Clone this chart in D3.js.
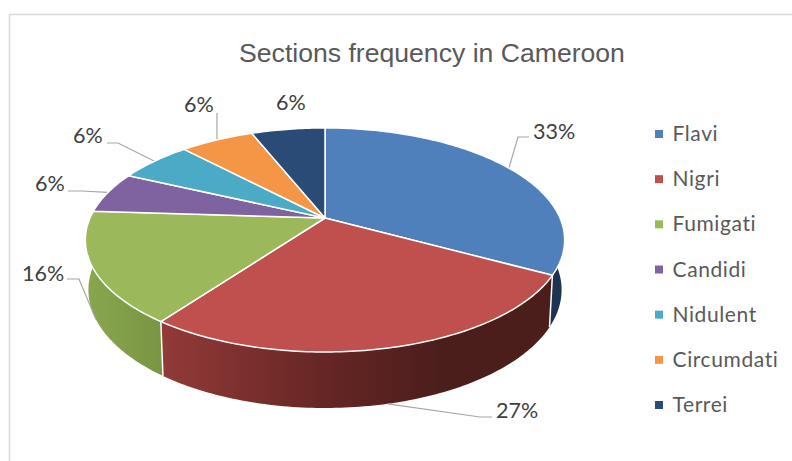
<!DOCTYPE html>
<html><head><meta charset="utf-8">
<script src="https://cdn.jsdelivr.net/npm/d3@7"></script>
<style>html,body{margin:0;padding:0;background:#fff}svg{display:block}</style>
</head><body><svg id="c" width="792" height="461"></svg>
<script>
const categories = ["Flavi","Nigri","Fumigati","Candidi","Nidulent","Circumdati","Terrei"];
const values = [33,27,16,6,6,6,6];
const labels = ["33%","27%","16%","6%","6%","6%","6%"];
const colors = ["#4f80bb","#bf504d","#9bb95a","#7f62a0","#4baac5","#f49645","#2a4b76"];
const title = "Sections frequency in Cameroon";

const svg = d3.select("#c");
const FONT = "Lato, 'Noto Sans', sans-serif";
const P = 0.196;
const cx = 325;
const topDisc = {a:235, b:107.7, y0:218};
const botDisc = {a:232, b:113.6, y0:266.7};
function proj(d, t){
  const u = Math.sin(t), v = -Math.cos(t), w = 1 - P*v;
  return [cx + d.a*u/w, d.y0 + d.b*v/w];
}
const pie = d3.pie().sort(null).value(d=>d).startAngle(0).endAngle(2*Math.PI);
const arcs = pie(values);
const color = d3.scaleOrdinal(categories, colors);
const line = d3.line();

function arcPts(d, a){
  const n = Math.max(4, Math.ceil((a.endAngle-a.startAngle)*60));
  return d3.range(n+1).map(i=>proj(d, a.startAngle+(a.endAngle-a.startAngle)*i/n));
}
const wedge = (d,a)=>line([[cx,d.y0]].concat(arcPts(d,a)))+"Z";
const wall = a=>line(arcPts(topDisc,a).concat(arcPts(botDisc,a).reverse()))+"Z";

// frame
svg.append("path").attr("d","M9.5,461V14.5H792").attr("fill","none").attr("stroke","#d9d9d9").attr("stroke-width",1.4);

// gradients
const defs = svg.append("defs");
function grad(id, x1, x2, stops){
  const g = defs.append("linearGradient").attr("id",id).attr("gradientUnits","userSpaceOnUse")
    .attr("x1",x1).attr("x2",x2).attr("y1",0).attr("y2",0);
  stops.forEach(s=>g.append("stop").attr("offset",s[0]).attr("stop-color",s[1]));
}
grad("gNigri",165,440,[[0,"#913a38"],[0.55,"#682725"],[1,"#4b1e1c"]]);
grad("gFum",88,165,[[0,"#88a64e"],[1,"#7a9443"]]);
const wallFill = ["#1d3350","url(#gNigri)","url(#gFum)"];

// leaders that run beneath the walls
const leaderDisc = [topDisc,botDisc,botDisc,topDisc,topDisc,topDisc,null];
const elbow = [[[518,137],[529,137]],[[480,417],[492,417]],[[79,279],[67,279]],[[82,191],[68,191]],[[118,143],[107,143]],[[217,113]],null];

// walls: only the three front slices show
svg.append("g").selectAll("path").data(arcs.slice(0,3)).join("path")
  .attr("d",wall).attr("fill",(a,i)=>wallFill[i]);

// wall separators
svg.append("g").selectAll("line").data([arcs[0].endAngle, arcs[1].endAngle]).join("line")
  .attr("x1",t=>proj(topDisc,t)[0]).attr("y1",t=>proj(topDisc,t)[1])
  .attr("x2",t=>proj(botDisc,t)[0]).attr("y2",t=>proj(botDisc,t)[1])
  .attr("stroke","#fff").attr("stroke-width",1.5);

svg.append("g").selectAll("path").data(arcs.filter((a,i)=>elbow[i])).join("path")
  .attr("d",(a,i)=>line([proj(leaderDisc[i],(a.startAngle+a.endAngle)/2)].concat(elbow[i])))
  .attr("fill","none").attr("stroke","#a6a6a6").attr("stroke-width",1.2);

// top disc
svg.append("g").selectAll("path").data(arcs).join("path")
  .attr("d",a=>wedge(topDisc,a)).attr("fill",(a,i)=>colors[i])
  .attr("stroke","#fff").attr("stroke-width",1.5).attr("stroke-linejoin","round");

// title
svg.append("text").attr("x",432).attr("y",62).attr("text-anchor","middle")
  .attr("font-family","'Liberation Sans', Arial, sans-serif").attr("font-size",26.6).attr("fill","#595959").text(title);

// percent labels
const labelPos = [[533,139],[496,418],[22,281],[35,191],[73,143],[184,112],[276,110]];
svg.append("g").selectAll("text").data(labels).join("text")
  .attr("x",(d,i)=>labelPos[i][0]).attr("y",(d,i)=>labelPos[i][1])
  .attr("font-family",FONT).attr("font-size",21.5).attr("fill","#404040").text(d=>d);

// legend
const ly = d3.scalePoint(categories,[134,405]);
const lg = svg.append("g").selectAll("g").data(categories).join("g")
  .attr("transform",d=>`translate(655,${ly(d)})`);
lg.append("rect").attr("x",0).attr("y",-4).attr("width",8).attr("height",8).attr("fill",d=>color(d));
lg.append("text").attr("x",17.5).attr("y",7).attr("font-family",FONT).attr("font-size",21)
  .attr("letter-spacing",0.6).attr("fill","#595959").text(d=>d);
</script></body></html>
